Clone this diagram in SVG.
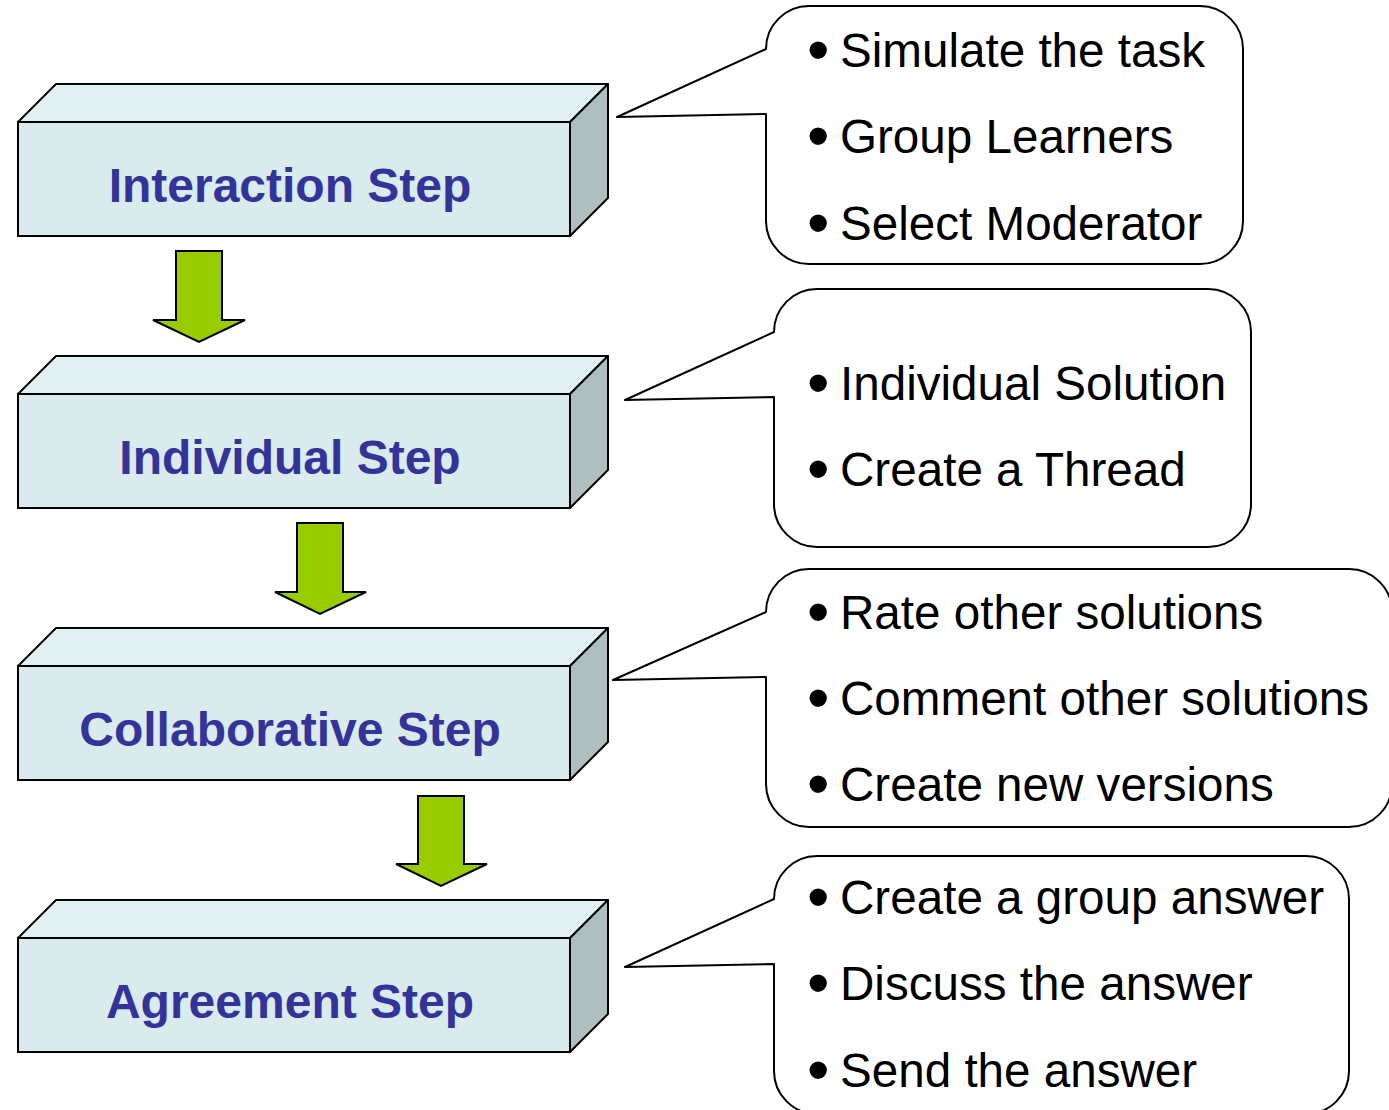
<svg xmlns="http://www.w3.org/2000/svg" width="1389" height="1110" viewBox="0 0 1389 1110">
<style>
.front{fill:#d9ebed;stroke:#000;stroke-width:2}
.top{fill:#e1f0f2;stroke:#000;stroke-width:2;stroke-linejoin:round}
.side{fill:#afbfbf;stroke:#000;stroke-width:2;stroke-linejoin:round}
.lbl{font-family:"Liberation Sans",Arial,sans-serif;font-weight:bold;font-size:48px;fill:#333399;text-anchor:middle}
.call{fill:#fff;stroke:#000;stroke-width:2;stroke-linejoin:round}
.item{font-family:"Liberation Sans",Arial,sans-serif;font-size:47.6px;fill:#000}
.b{font-size:64px}
.arrow{fill:#99cc00;stroke:#000;stroke-width:2;stroke-linejoin:miter}
</style>
<defs>
<g id="box">
<polygon class="top" points="18,122 56,84 608,84 570,122"/>
<polygon class="side" points="570,122 608,84 608,198 570,236"/>
<rect class="front" x="18" y="122" width="552" height="114"/>
</g>
</defs>
<rect width="1389" height="1110" fill="#fff"/>

<g id="connectors">
<polygon class="arrow" points="176,251 222,251 222,320 245,320 199,342 153,320 176,320"/>
<polygon class="arrow" points="297,523 343,523 343,592 366,592 320,614 275,592 297,592"/>
<polygon class="arrow" points="418,796 464,796 464,864 487,864 441,886 396,864 418,864"/>
</g>

<g id="interaction-step">
<use href="#box"/>
<text class="lbl" x="290" y="202">Interaction Step</text>
</g>
<g id="individual-step">
<use href="#box" transform="translate(0,272)"/>
<text class="lbl" x="290" y="474">Individual Step</text>
</g>
<g id="collaborative-step">
<use href="#box" transform="translate(0,544)"/>
<text class="lbl" x="290" y="746">Collaborative Step</text>
</g>
<g id="agreement-step">
<use href="#box" transform="translate(0,816)"/>
<text class="lbl" x="290" y="1018">Agreement Step</text>
</g>

<g id="callout-interaction">
<path class="call" d="M766,114 L766,221 A43,43 0 0 0 809,264 L1200,264 A43,43 0 0 0 1243,221 L1243,49 A43,43 0 0 0 1200,6 L809,6 A43,43 0 0 0 766,49 L617,117 Z"/>
<text class="item" y="67"><tspan class="b" x="807" dy="5">•</tspan><tspan x="840" dy="-5">Simulate the task</tspan></text>
<text class="item" y="153"><tspan class="b" x="807" dy="5">•</tspan><tspan x="840" dy="-5">Group Learners</tspan></text>
<text class="item" y="240"><tspan class="b" x="807" dy="5">•</tspan><tspan x="840" dy="-5">Select Moderator</tspan></text>
</g>
<g id="callout-individual">
<path class="call" d="M774,397 L774,504 A43,43 0 0 0 817,547 L1208,547 A43,43 0 0 0 1251,504 L1251,332 A43,43 0 0 0 1208,289 L817,289 A43,43 0 0 0 774,332 L625,400 Z"/>
<text class="item" y="400"><tspan class="b" x="807" dy="5">•</tspan><tspan x="840" dy="-5">Individual Solution</tspan></text>
<text class="item" y="486"><tspan class="b" x="807" dy="5">•</tspan><tspan x="840" dy="-5">Create a Thread</tspan></text>
</g>
<g id="callout-collaborative">
<path class="call" d="M766,677 L766,784 A43,43 0 0 0 809,827 L1349,827 A43,43 0 0 0 1392,784 L1392,612 A43,43 0 0 0 1349,569 L809,569 A43,43 0 0 0 766,612 L613,680 Z"/>
<text class="item" y="629"><tspan class="b" x="807" dy="5">•</tspan><tspan x="840" dy="-5">Rate other solutions</tspan></text>
<text class="item" y="715"><tspan class="b" x="807" dy="5">•</tspan><tspan x="840" dy="-5">Comment other solutions</tspan></text>
<text class="item" y="801"><tspan class="b" x="807" dy="5">•</tspan><tspan x="840" dy="-5">Create new versions</tspan></text>
</g>
<g id="callout-agreement">
<path class="call" d="M774,964 L774,1071 A43,43 0 0 0 817,1114 L1306,1114 A43,43 0 0 0 1349,1071 L1349,899 A43,43 0 0 0 1306,856 L817,856 A43,43 0 0 0 774,899 L625,967 Z"/>
<text class="item" y="914"><tspan class="b" x="807" dy="5">•</tspan><tspan x="840" dy="-5">Create a group answer</tspan></text>
<text class="item" y="1000"><tspan class="b" x="807" dy="5">•</tspan><tspan x="840" dy="-5">Discuss the answer</tspan></text>
<text class="item" y="1087"><tspan class="b" x="807" dy="5">•</tspan><tspan x="840" dy="-5">Send the answer</tspan></text>
</g>
</svg>
